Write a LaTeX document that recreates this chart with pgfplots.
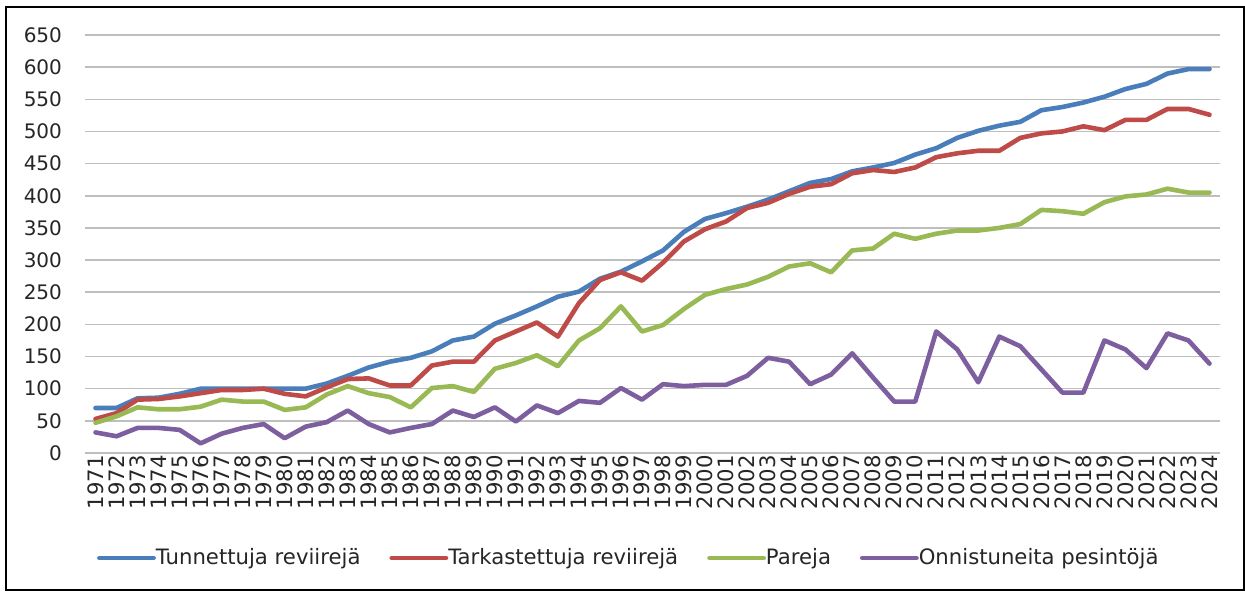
\documentclass[border=0pt]{standalone}
\usepackage{pgfplots}
\pgfplotsset{compat=1.18}
\usepackage{pgfplotstable}
\usepackage{fontspec}
\setmainfont{DejaVu Sans}
\definecolor{cblue}{HTML}{4A7EBB}
\definecolor{cred}{HTML}{BE4B48}
\definecolor{cgreen}{HTML}{98B954}
\definecolor{cpurple}{HTML}{7D5FA0}
\definecolor{cgrid}{RGB}{190,190,190}
\pgfplotstableread{
year a b c d
1971 70 53 47 32
1972 70 62 57 26
1973 85 83 71 39
1974 86 84 68 39
1975 92 88 68 36
1976 100 93 72 15
1977 100 98 83 30
1978 100 98 80 39
1979 100 100 80 45
1980 100 92 67 23
1981 100 88 71 41
1982 108 102 91 48
1983 120 115 104 66
1984 133 116 93 45
1985 142 105 87 32
1986 148 105 71 39
1987 158 136 101 45
1988 175 142 104 66
1989 181 142 95 56
1990 201 175 131 71
1991 214 189 140 49
1992 228 203 152 74
1993 243 181 135 62
1994 251 233 175 81
1995 271 269 194 78
1996 282 281 228 101
1997 298 268 189 83
1998 315 296 199 107
1999 344 329 224 104
2000 364 348 246 106
2001 373 360 255 106
2002 383 381 262 120
2003 394 389 274 148
2004 407 403 290 142
2005 420 414 295 107
2006 426 418 281 122
2007 438 435 315 155
2008 444 440 318 117
2009 451 437 341 80
2010 464 444 333 80
2011 474 460 341 189
2012 490 466 346 161
2013 501 470 346 110
2014 509 470 350 181
2015 515 490 356 166
2016 533 497 378 130
2017 538 500 376 94
2018 545 508 372 94
2019 554 502 390 175
2020 566 518 399 161
2021 574 518 402 132
2022 590 535 411 186
2023 597 535 405 175
2024 597 526 405 139
}\datatable
\begin{document}
\begin{tikzpicture}
\useasboundingbox (0,0) rectangle (622.5pt,296.5pt);
\fill[white] (0,0) rectangle (622.5pt,296.5pt);
\draw[line width=0.75pt, black] (3pt,1.5pt) rectangle (622pt,293pt);
\begin{axis}[
  at={(42.5pt,70pt)}, anchor=south west,
  scale only axis, width=567.5pt, height=209pt,
  xmin=1970.5, xmax=2024.5, ymin=0, ymax=650,
  xtick=data,
  ytick={0,50,...,650},
  axis line style={draw=none},
  major tick length=0pt,
  ymajorgrids, grid style={cgrid, line width=0.8pt},
  /pgf/number format/1000 sep={},
  /pgf/number format/assume math mode=true,
  tick label style={font=\fontsize{10}{12}\selectfont, text=black!85},
  xticklabel style={rotate=90, anchor=east, inner sep=1pt, font=\fontsize{10.6}{12}\selectfont},
  yticklabel style={anchor=east, xshift=-8pt},
  legend style={at={(0.48,-0.2512)}, anchor=center, draw=none, fill=none,
    legend columns=4, font=\fontsize{10.6}{12}\selectfont, text=black!85,
    /tikz/every odd column/.append style={column sep=-2pt},
    /tikz/every even column/.append style={column sep=12.5pt},
    inner sep=0pt, cells={anchor=west, inner xsep=0.5pt}},
  legend image code/.code={\draw[#1, line width=2.4pt] (0pt,0pt) -- (27pt,0pt);},
  every axis plot/.append style={line width=2.3pt, line join=round, line cap=round, mark=none},
]
\addplot[cblue] table[x=year,y=a]{\datatable};
\addplot[cred] table[x=year,y=b]{\datatable};
\addplot[cgreen] table[x=year,y=c]{\datatable};
\addplot[cpurple] table[x=year,y=d]{\datatable};
\legend{Tunnettuja reviirejä,Tarkastettuja reviirejä,Pareja,Onnistuneita pesintöjä}
\end{axis}
\end{tikzpicture}
\end{document}
